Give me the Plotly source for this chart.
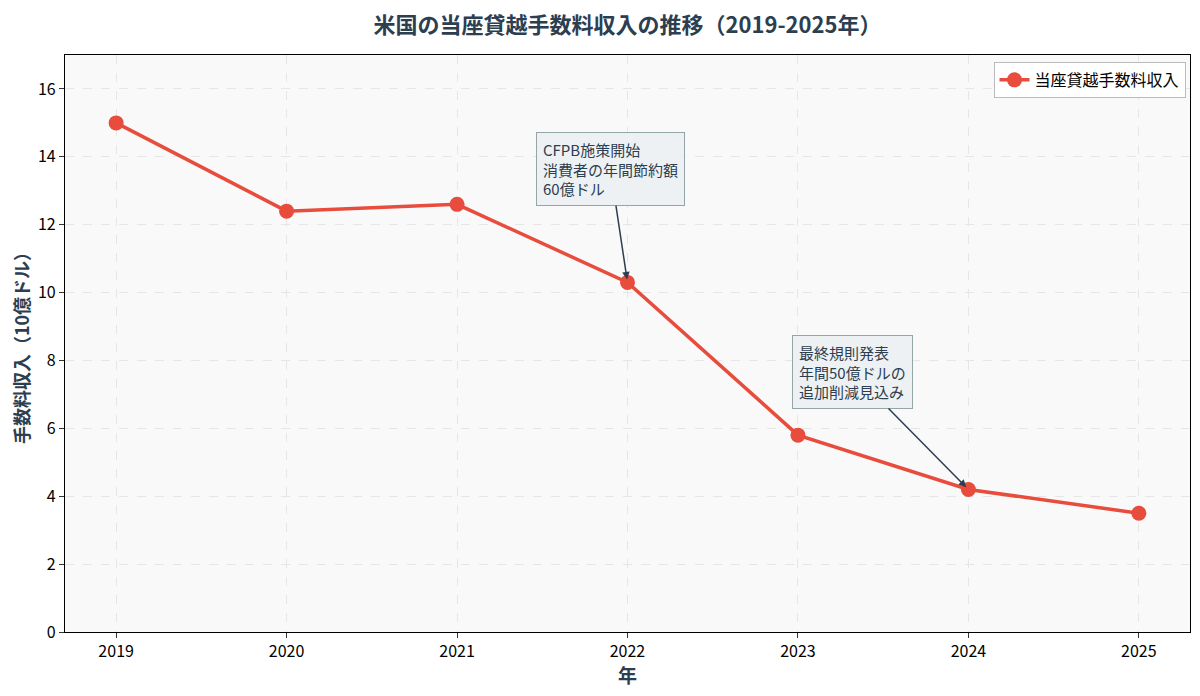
import plotly.graph_objects as go

years = [2019, 2020, 2021, 2022, 2023, 2024, 2025]
revenue = [15.0, 12.4, 12.6, 10.3, 5.8, 4.2, 3.5]
series_name = "当座貸越手数料収入"

ann_points = [(2022, 10.3), (2024, 4.2)]
ann_text_pos = [(2021.90, 13.64), (2023.32, 7.66)]
ann_texts = ["CFPB施策開始<br>消費者の年間節約額<br>60億ドル",
             "最終規則発表<br>年間50億ドルの<br>追加削減見込み"]

FONT = "Noto Sans CJK JP"
DARK = "#2c3e50"

fig = go.Figure()
fig.add_trace(go.Scatter(
    x=years, y=revenue, mode="lines+markers", name=series_name,
    line=dict(color="#e74c3c", width=3.5),
    marker=dict(color="#e74c3c", size=15),
))

for (px, py), (tx, ty), t in zip(ann_points, ann_text_pos, ann_texts):
    fig.add_annotation(
        x=px, y=py, ax=tx, ay=ty, xref="x", yref="y", axref="x", ayref="y",
        text=t, showarrow=True, arrowhead=2, arrowsize=1, arrowwidth=1.5,
        arrowcolor=DARK, standoff=3, align="left",
        font=dict(family=FONT, size=15, color=DARK),
        bgcolor="#eef1f3", bordercolor="#95a5a6", borderwidth=1, borderpad=6,
    )

fig.update_layout(
    width=1184, height=680,
    paper_bgcolor="white", plot_bgcolor="#f9f9f9",
    font=dict(family=FONT, size=16, color="black"),
    margin=dict(l=57, r=2, t=47, b=56),
    title=dict(text="<b>米国の当座貸越手数料収入の推移（2019-2025年）</b>",
               x=0.5, xref="paper", xanchor="center", y=0.975, yanchor="middle",
               font=dict(family=FONT, size=22, color=DARK)),
    legend=dict(x=0.996, y=0.988, xanchor="right", yanchor="top",
                bgcolor="white", bordercolor="#bbbbbb", borderwidth=1,
                font=dict(family=FONT, size=16, color="black")),
    showlegend=True,
)
fig.update_xaxes(
    range=[2018.7, 2025.3], tickmode="array", tickvals=years,
    ticktext=[str(y) for y in years],
    title=dict(text="<b>年</b>", font=dict(family=FONT, size=19, color=DARK), standoff=4),
    showgrid=True, gridcolor="#e6e6e6", griddash="dash", gridwidth=1,
    showline=True, linecolor="black", linewidth=1.2, mirror=True,
    ticks="outside", ticklen=5, tickcolor="#333", zeroline=False,
    tickfont=dict(size=16, color="black"), automargin=False,
)
fig.update_yaxes(
    range=[0, 17], tickvals=[0, 2, 4, 6, 8, 10, 12, 14, 16],
    title=dict(text="<b>手数料収入（10億ドル）</b>", font=dict(family=FONT, size=18, color=DARK), standoff=8),
    showgrid=True, gridcolor="#e6e6e6", griddash="dash", gridwidth=1,
    showline=True, linecolor="black", linewidth=1.2, mirror=True,
    ticks="outside", ticklen=5, tickcolor="#333", zeroline=False,
    tickfont=dict(size=16, color="black"), automargin=False,
)

fig.write_html("out.html")
